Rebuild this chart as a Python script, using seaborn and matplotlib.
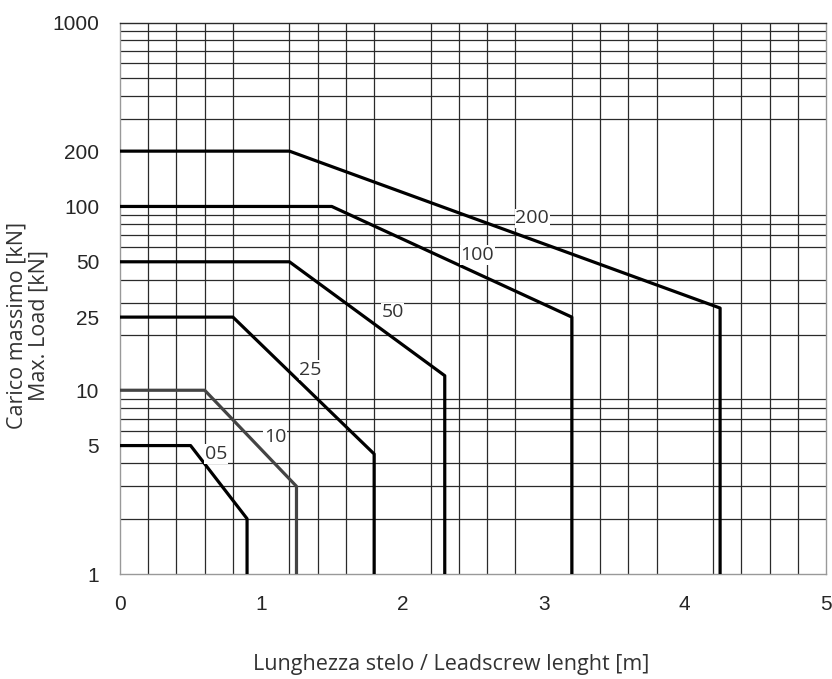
import numpy as np
import pandas as pd
import matplotlib
matplotlib.use("Agg")
import matplotlib.pyplot as plt
import seaborn as sns

# curve data: length [m] vs max load [kN]
x_05 = [0, 0.5, 0.9, 0.9]
y_05 = [5, 5, 2, 1]
x_10 = [0, 0.6, 1.25, 1.25]
y_10 = [10, 10, 3, 1]
x_25 = [0, 0.8, 1.8, 1.8]
y_25 = [25, 25, 4.5, 1]
x_50 = [0, 1.2, 2.3, 2.3]
y_50 = [50, 50, 12, 1]
x_100 = [0, 1.5, 3.2, 3.2]
y_100 = [100, 100, 25, 1]
x_200 = [0, 1.2, 4.25, 4.25]
y_200 = [200, 200, 28, 1]

curve_names = ["05", "10", "25", "50", "100", "200"]
label_x = [0.68, 1.10, 1.35, 1.93, 2.53, 2.92]
label_y = [4.5, 5.6, 12.9, 26.5, 54.5, 86]

ytick_vals = [1, 5, 10, 25, 50, 100, 200, 1000]
xtick_vals = [0, 1, 2, 3, 4, 5]

sns.set_style("white")

curves = {
    "05": (x_05, y_05), "10": (x_10, y_10), "25": (x_25, y_25),
    "50": (x_50, y_50), "100": (x_100, y_100), "200": (x_200, y_200),
}
colors = {"05": "black", "10": "#444444", "25": "black",
          "50": "black", "100": "black", "200": "black"}

fig = plt.figure(figsize=(8.32, 6.79), dpi=100)
ax = fig.add_axes([0.1442, 0.1546, 0.8486, 0.812])

for name in curve_names:
    xs, ys = curves[name]
    df = pd.DataFrame({"x": xs, "y": ys})
    sns.lineplot(data=df, x="x", y="y", sort=False, estimator=None,
                 color=colors[name], linewidth=2.3, ax=ax, zorder=3)

ax.set_yscale("log")
ax.set_xlim(0, 5)
ax.set_ylim(1, 1000)

# grid on minor ticks
ygrid = [m * 10 ** k for k in range(0, 3) for m in range(1, 10)] + [1000]
xgrid = np.round(np.arange(0, 5.01, 0.2), 2)
ax.set_yticks(ygrid, minor=True)
ax.set_xticks(xgrid, minor=True)
ax.set_yticks(ytick_vals)
ax.set_yticklabels([str(v) for v in ytick_vals])
ax.set_xticks(xtick_vals)
ax.set_xticklabels([str(v) for v in xtick_vals])
ax.tick_params(which="minor", length=0)
ax.tick_params(which="major", length=7, width=1, color="#999999",
               labelsize=15, pad=8)
for lbl in ax.get_xticklabels() + ax.get_yticklabels():
    lbl.set_family("Liberation Sans")
ax.grid(False, which="major")
ax.grid(True, which="minor", color="#2a2a2a", linewidth=0.9)
ax.set_axisbelow(True)
for s in ax.spines.values():
    s.set_color("#999999")
    s.set_linewidth(1)
ax.spines["top"].set_color("#2a2a2a")

for name, lx, ly in zip(curve_names, label_x, label_y):
    ax.text(lx, ly, name, ha="center", va="center", fontsize=14,
            family="Open Sans", color="#333333", zorder=4,
            bbox=dict(facecolor="white", edgecolor="none", pad=0.5))

ax.set_xlabel("")
ax.set_ylabel("")
fig.text(0.542, 0.021, "Lunghezza stelo / Leadscrew lenght [m]",
         ha="center", va="center", fontsize=15.5, family="Open Sans", color="#333333")
fig.text(0.034, 0.52, "Carico massimo [kN]\nMax. Load [kN]", rotation=90,
         ha="center", va="center", fontsize=15.5, family="Open Sans",
         color="#333333", linespacing=1.05)

fig.savefig("out.png", dpi=100)
